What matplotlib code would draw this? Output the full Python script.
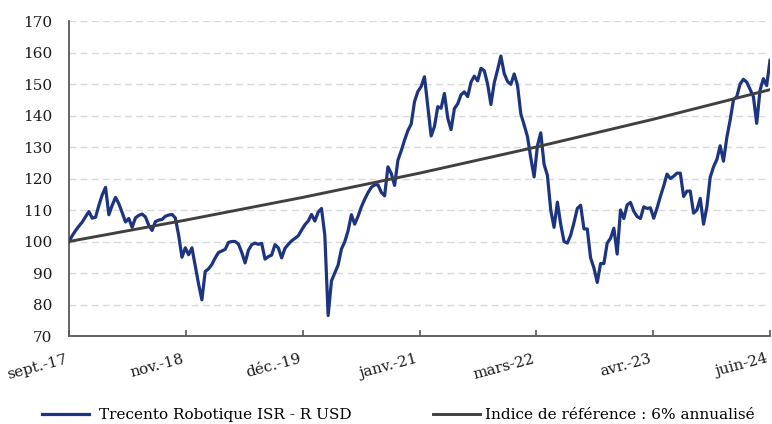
import matplotlib
matplotlib.use("Agg")
import matplotlib.pyplot as plt
import matplotlib.transforms as mtransforms
import numpy as np

# Tick labels along the time axis (evenly spaced, first at the start, last at the end)
tick_labels = ["sept.-17", "nov.-18", "déc.-19", "janv.-21", "mars-22", "avr.-23", "juin-24"]

# Fund NAV (base 100) at regular intervals
fund_values = [
    100, 101.9, 103.5, 104.9, 106.2, 107.9, 109.5, 107.4, 107.7, 111.5,
    114.8, 117.2, 108.5, 111.5, 114.0, 112, 109.2, 106.2, 107.3, 104.5,
    107.5, 108.3, 108.7, 107.8, 105.2, 103.5, 106.3, 106.8, 107, 108,
    108.4, 108.6,
    107.5, 102, 95, 98, 95.8, 98, 92.2, 86.5, 81.5, 90.5,
    91.3, 92.7, 94.8, 96.5, 97, 97.5, 99.7, 100, 100, 99.2,
    96.5, 93.2, 97.2, 99, 99.5, 99.1, 99.4, 94.4, 95.2, 95.7, 99,
    98, 94.8, 97.8, 99.1, 100.2, 101, 101.8, 103.6, 105.3, 106.5,
    108.6, 106.5, 109.3, 110.5, 102, 76.5, 87.5, 90, 92.5, 97.6,
    99.9, 103.4, 108.5, 105.5, 108, 111, 113.4, 115.5, 117.2, 118,
    118, 115.6, 114.5, 123.7, 121.6, 117.8, 125.8, 128.8, 132.2, 135.2,
    137.3, 144.4, 147.6, 149.2, 152.3, 143, 133.5, 136.5, 142.8, 142.3,
    147, 139.2, 135.5, 142.2, 143.7, 146.6, 147.5, 146, 150.6, 152.5,
    151, 155, 154.2, 150, 143.5, 150.4, 154.5, 158.9, 153.3, 150.8,
    149.9, 153.2, 149.6, 140.5, 137, 133.3, 126.5, 120.5, 130.4, 134.5,
    124.5, 121, 110, 104.5, 112.5, 105.5, 100, 99.5, 102, 106,
    110.5, 111.5, 104, 104, 94.8, 91.6, 87, 93, 93, 99.5,
    101, 104.2, 96, 110, 107.3, 111.6, 112.4, 109.6, 107.9, 107.3,
    111, 110.5, 110.7, 107.4, 110.6, 114.3, 117.6, 121.4, 120, 120.7,
    121.7, 121.7, 114.3, 116, 116, 109, 110, 113.7, 105.5, 111,
    120.4, 123.7, 126, 130.4, 125.5, 133, 138.5, 145, 146, 150,
    151.5, 150.6, 148.3, 146, 137.5, 148, 151.7, 149.5, 157.5,
]

# Benchmark (6% a year) at each tick date
benchmark_values = [100, 106.8, 114.0, 121.7, 130.0, 138.8, 148.2]

fund_name = "Trecento Robotique ISR - R USD"
benchmark_name = "Indice de référence : 6% annualisé"

plt.rcParams['font.family'] = ['DejaVu Serif']
plt.rcParams['font.size'] = 11

fig = plt.figure(figsize=(7.72, 4.24), dpi=100)
ax = fig.add_axes([69 / 772, 1 - 336 / 424, 701 / 772, 315 / 424])

x = np.arange(len(fund_values))
tick_pos = np.linspace(0, x[-1], len(tick_labels))

fund_line, = ax.plot(x, fund_values, color='#1d3580', lw=2.3, zorder=3)
bench_line, = ax.plot(tick_pos, benchmark_values, color='#404040', lw=2.1, zorder=4)

ax.set_xlim(0, x[-1])
ax.set_ylim(70, 170)
ax.set_yticks(np.arange(70, 171, 10))
ax.set_xticks(tick_pos)
ax.set_xticklabels([])

# rotated date labels, right end at the tick, nudged left so the last one fits
offset = mtransforms.ScaledTranslation(-4 / 100, -16 / 100, fig.dpi_scale_trans)
for pos, lab in zip(tick_pos, tick_labels):
    ax.text(pos, 0, lab, transform=ax.get_xaxis_transform() + offset,
            rotation=15, rotation_mode='anchor', ha='right', va='top',
            color='#1a1a1a', clip_on=False)

ax.yaxis.grid(True, color='#d9d9d9', linestyle=(0, (5, 3)), linewidth=1)
ax.set_axisbelow(True)

for side in ['top', 'right']:
    ax.spines[side].set_visible(False)
for side in ['left', 'bottom']:
    ax.spines[side].set_color('#595959')
    ax.spines[side].set_linewidth(1.3)

ax.tick_params(axis='y', length=0, pad=12, colors='#1a1a1a')
ax.tick_params(axis='x', direction='in', length=4, width=1.2, color='#595959')

# two separate legend entries placed at the bottom
fig.legend(handles=[fund_line], labels=[fund_name], loc='center left',
           bbox_to_anchor=(42 / 772, 1 - 415 / 424), frameon=False,
           borderpad=0, borderaxespad=0, handlelength=3.1, handletextpad=0.6)
fig.legend(handles=[bench_line], labels=[benchmark_name], loc='center left',
           bbox_to_anchor=(433 / 772, 1 - 415 / 424), frameon=False,
           borderpad=0, borderaxespad=0, handlelength=3.1, handletextpad=0.3)

plt.savefig('out.png', dpi=100)
